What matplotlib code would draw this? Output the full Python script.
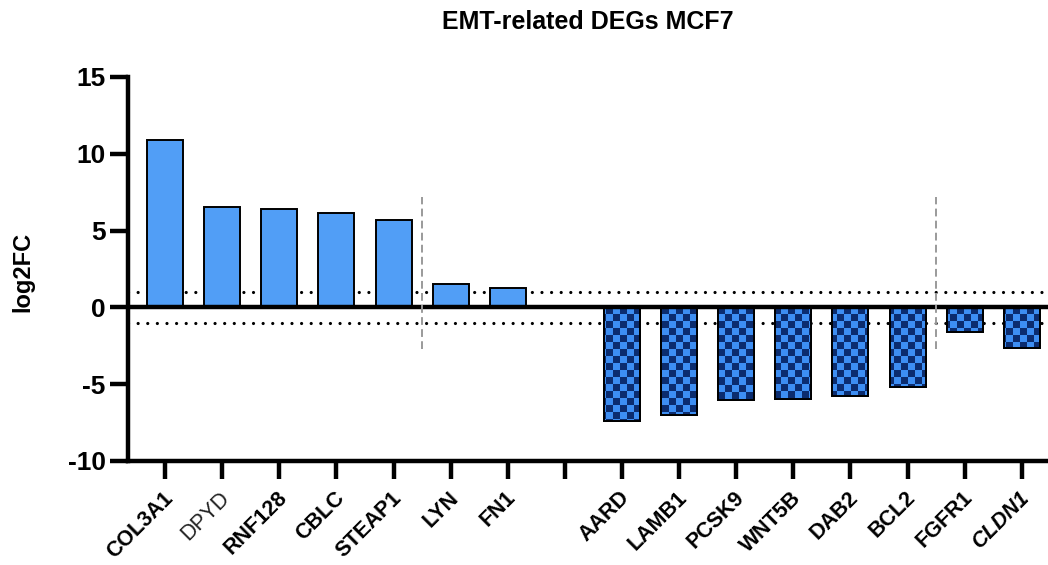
import numpy as np
import matplotlib
matplotlib.use("Agg")
import matplotlib.pyplot as plt
from matplotlib.colors import ListedColormap

plt.rcParams['font.family'] = ['Liberation Sans', 'DejaVu Sans']

# ---- data ----
up_genes = ["COL3A1", "DPYD", "RNF128", "CBLC", "STEAP1", "LYN", "FN1"]
up_values = [10.9, 6.55, 6.4, 6.15, 5.7, 1.5, 1.25]
down_genes = ["AARD", "LAMB1", "PCSK9", "WNT5B", "DAB2", "BCL2", "FGFR1", "CLDN1"]
down_values = [-7.4, -7.0, -6.0, -5.95, -5.75, -5.2, -1.6, -2.65]
threshold = 1.0
yticks = [15, 10, 5, 0, -5, -10]
divider_positions = [4.5, 13.5]
divider_range = (-2.7, 7.2)

title = "EMT-related DEGs MCF7"
ylabel = "log2FC"

# ---- layout ----
W, H = 1048, 565
fig = plt.figure(figsize=(W / 100, H / 100), dpi=100)
ax = fig.add_axes([128 / W, 1 - 461 / H, 1 - 128 / W, (461 - 77) / H])

n_up = len(up_genes)
x_up = np.arange(n_up)
x_down = np.arange(len(down_genes)) + n_up + 1
xlim = (-0.65, x_down[-1] + 0.46)
ylim = (-10, 15)
ax.set_xlim(*xlim)
ax.set_ylim(*ylim)

bar_w = 0.63
pos_color = "#519ef6"
light_chk = "#3d8ef3"
dark_chk = "#0b2c6f"

ax.bar(x_up, up_values, width=bar_w, color=pos_color, edgecolor="black",
       linewidth=1.4, zorder=2)
down_bars = ax.bar(x_down, down_values, width=bar_w, color=light_chk,
                   edgecolor="black", linewidth=1.4, zorder=2)

# checkerboard fill for down bars
cell_px = 7.0
ncols = int(round(920 / cell_px))
nrows = int(round(384 / cell_px))
chk = (np.indices((nrows, ncols)).sum(axis=0) % 2).astype(float)
cmap = ListedColormap([light_chk, dark_chk])
for b in down_bars:
    im = ax.imshow(chk, cmap=cmap, extent=(xlim[0], xlim[1], ylim[0], ylim[1]),
                   aspect="auto", interpolation="nearest", zorder=2.1,
                   origin="lower")
    im.set_clip_path(b)
for b in down_bars:
    ax.add_patch(plt.Rectangle(b.get_xy(), b.get_width(), b.get_height(),
                               fill=False, edgecolor="black", linewidth=1.4,
                               zorder=2.2))
ax.set_xlim(*xlim)
ax.set_ylim(*ylim)

# threshold lines
for t in (threshold, -threshold):
    ax.axhline(t, color="black", linewidth=2.3, linestyle=(0, (0.01, 3.0)),
               dash_capstyle="round", zorder=1.5)
# zero line
ax.axhline(0, color="black", linewidth=3.2, zorder=3)

# dividers
for xp in divider_positions:
    ax.plot([xp, xp], divider_range, color="#9a9a9a", linewidth=1.4,
            linestyle=(0, (4, 2.2)), zorder=3.5)

# spines
for s in ("top", "right"):
    ax.spines[s].set_visible(False)
for s in ("left", "bottom"):
    ax.spines[s].set_linewidth(3.2)

ax.set_yticks(yticks)
ax.set_yticklabels([str(v) for v in yticks], fontsize=19, fontweight="bold")
ax.tick_params(axis="y", length=13, width=3.2, pad=3)

xt = list(x_up) + [n_up] + list(x_down)
ax.set_xticks(xt)
ax.set_xticklabels([""] * len(xt))
ax.tick_params(axis="x", length=13, width=3.2)

all_genes = up_genes + [""] + down_genes
for xpos, g in zip(xt, all_genes):
    if not g:
        continue
    kw = dict(fontsize=15.5, fontweight="bold")
    if g == "DPYD":
        kw = dict(fontsize=15.5, fontweight="normal", color="#222222")
    if g == "CLDN1":
        kw["fontstyle"] = "italic"
    ax.annotate(g, xy=(xpos, 0), xycoords=("data", "axes fraction"),
                xytext=(-2, -19), textcoords="offset points",
                rotation=45, ha="right", va="top", rotation_mode="anchor", **kw)

fig.text(23 / W, 1 - 272 / H, ylabel, rotation=90, ha="center", va="center",
         fontsize=17, fontweight="bold")
fig.text((128 + 460) / W, 1 - 22 / H, title, ha="center", va="center",
         fontsize=18, fontweight="bold")

fig.savefig("out.png", dpi=100)
